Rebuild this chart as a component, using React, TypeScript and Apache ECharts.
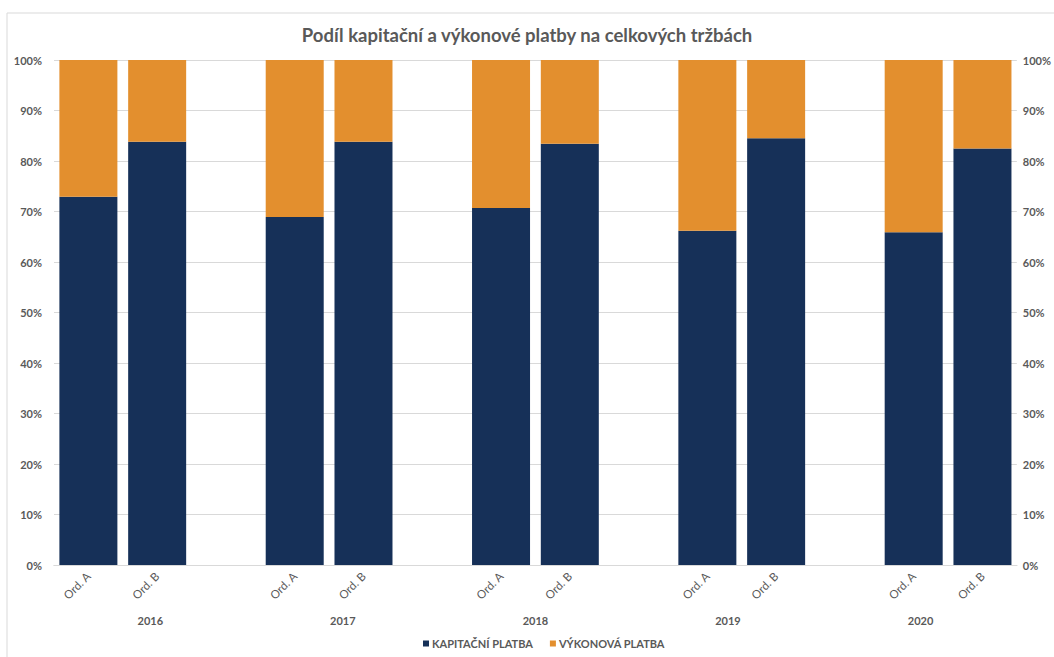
import React, { useEffect, useRef } from "react";
import * as echarts from "echarts";

const years = ["2016", "2017", "2018", "2019", "2020"];
const subCategories = ["Ord. A", "Ord. B"];
const kapitacni = [72.9, 83.8, 68.9, 83.8, 70.7, 83.4, 66.2, 84.5, 65.9, 82.5];
const vykonova = [27.1, 16.2, 31.1, 16.2, 29.3, 16.6, 33.8, 15.5, 34.1, 17.5];
const seriesNames = ["KAPITAČNÍ PLATBA", "VÝKONOVÁ PLATBA"];
const yTicks = [0, 10, 20, 30, 40, 50, 60, 70, 80, 90, 100];

const FONT = "Lato, 'Open Sans', sans-serif";
const GRAY = "#595959";

export default function App() {
  const ref = useRef<HTMLDivElement>(null);
  useEffect(() => {
    if (!ref.current) return;
    const chart = echarts.init(ref.current, undefined, { renderer: "svg" });

    const slots: string[] = [];
    const dataA: (number | string)[] = [];
    const dataB: (number | string)[] = [];
    let k = 0;
    years.forEach((y, yi) => {
      subCategories.forEach((s) => {
        slots.push(s);
        dataA.push(kapitacni[k]);
        dataB.push(vykonova[k]);
        k++;
      });
      if (yi < years.length - 1) {
        slots.push("");
        dataA.push("-");
        dataB.push("-");
      }
    });

    chart.setOption({
      animation: false,
      textStyle: { fontFamily: FONT },
      title: {
        text: "Podíl kapitační a výkonové platby na celkových tržbách",
        left: "center",
        top: 20,
        textStyle: { fontFamily: FONT, fontSize: 18.5, fontWeight: "bold", color: GRAY },
      },
      graphic: [
        {
          type: "rect",
          shape: { x: 7, y: 13, width: 1080, height: 680 },
          style: { fill: "none", stroke: "#d9d9d9", lineWidth: 1 },
          silent: true,
        },
      ],
      legend: {
        bottom: 3,
        left: 418,
        icon: "rect",
        itemWidth: 6,
        itemHeight: 6,
        itemGap: 17,
        textStyle: { fontFamily: FONT, fontSize: 11, fontWeight: "bold", color: GRAY, padding: [0, 0, 0, -2] },
        data: seriesNames,
      },
      grid: { left: 54, right: 25, top: 60, bottom: 92, containLabel: false },
      xAxis: [
        {
          type: "category",
          data: slots,
          position: "bottom",
          axisLine: { show: true, lineStyle: { color: "#d9d9d9" } },
          axisTick: { show: false },
          axisLabel: { rotate: 45, margin: 9, fontSize: 11.5, color: GRAY, fontFamily: FONT, interval: 0 },
        },
        {
          type: "category",
          data: years,
          position: "bottom",
          offset: 41,
          axisLine: { show: true, lineStyle: { color: "#d9d9d9" } },
          axisTick: { show: false },
          axisLabel: { margin: 9, fontSize: 11, fontWeight: "bold", color: GRAY, fontFamily: FONT, interval: 0 },
        },
      ],
      yAxis: [
        {
          type: "value",
          min: yTicks[0],
          max: yTicks[yTicks.length - 1],
          interval: 10,
          position: "left",
          axisLine: { show: false },
          axisTick: { show: false },
          splitLine: { lineStyle: { color: "#d9d9d9" } },
          axisLabel: { formatter: "{value}%", margin: 12, fontSize: 11, fontWeight: "bold", color: GRAY, fontFamily: FONT },
        },
        {
          type: "value",
          min: yTicks[0],
          max: yTicks[yTicks.length - 1],
          interval: 10,
          position: "right",
          axisLine: { show: false },
          axisTick: { show: false },
          splitLine: { show: false },
          axisLabel: { formatter: "{value}%", margin: 6, fontSize: 11, fontWeight: "bold", color: GRAY, fontFamily: FONT },
        },
      ],
      series: [
        {
          name: seriesNames[0],
          type: "bar",
          stack: "total",
          xAxisIndex: 0,
          yAxisIndex: 0,
          barWidth: 58,
          itemStyle: { color: "#163058" },
          data: dataA,
        },
        {
          name: seriesNames[1],
          type: "bar",
          stack: "total",
          xAxisIndex: 0,
          yAxisIndex: 0,
          barWidth: 58,
          itemStyle: { color: "#E38F2E" },
          data: dataB,
        },
      ],
    });
    return () => chart.dispose();
  }, []);
  return (
    <div
      ref={ref}
      style={{ position: "fixed", left: 0, top: 0, width: 1054, height: 657, background: "#fff" }}
    />
  );
}
